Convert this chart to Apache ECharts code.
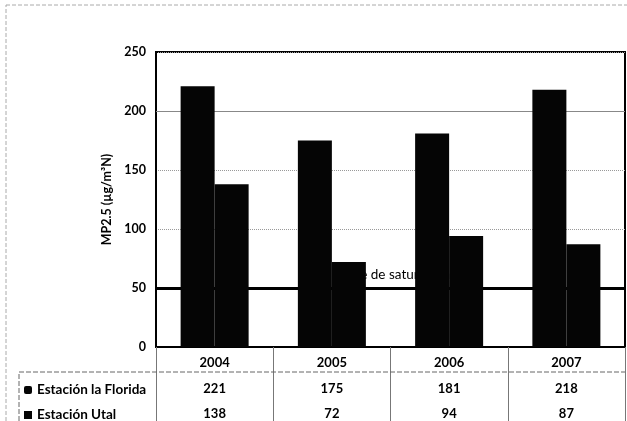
<!DOCTYPE html>
<html>
<head>
<meta charset="utf-8">
<script src="https://cdn.jsdelivr.net/npm/echarts@6/dist/echarts.min.js"></script>
<style>
html,body{margin:0;padding:0;background:#fff;}
#c{width:627px;height:421px;}
</style>
</head>
<body>
<div id="c"></div>
<script>
const categories = ['2004', '2005', '2006', '2007'];
const seriesNames = ['Estación la Florida', 'Estación Utal'];
const florida = [221, 175, 181, 218];
const utal = [138, 72, 94, 87];
const yTicks = { min: 0, max: 250, interval: 50 };
const limitValue = 50;
const gridValue = 200;
const limitLabel = 'Límite de saturación';
const yName = 'MP2.5 (µg/m³N)';

const FONT = 'Lato, "Open Sans", sans-serif';
const chart = echarts.init(document.getElementById('c'), null, { renderer: 'canvas' });

const option = {
  backgroundColor: '#fff',
  animation: false,
  textStyle: { fontFamily: FONT },
  grid: { left: 156, right: 2, top: 52, bottom: 74, show: true, borderColor: '#000', borderWidth: 2, backgroundColor: 'transparent' },
  legend: {
    data: seriesNames.map(n => ({ name: n, icon: n === seriesNames[0] ? 'roundRect' : 'rect' })),
    orient: 'vertical',
    left: 24, top: 383, height: 80, padding: 0,
    itemWidth: 8, itemHeight: 8, itemGap: 11,
    textStyle: { fontFamily: FONT, fontWeight: 'bold', fontSize: 13.5, color: '#000' },
    selectedMode: false
  },
  xAxis: [
    {
      type: 'category', data: categories, position: 'bottom',
      axisLine: { show: true, lineStyle: { color: '#000', width: 2 } },
      axisTick: { show: true, length: 74, interval: 0, lineStyle: { color: '#777', width: 1 } },
      axisLabel: { margin: 9, fontFamily: FONT, fontWeight: 'bold', fontSize: 13, color: '#000' }
    },
    {
      type: 'category', data: categories, position: 'bottom', offset: 25, gridIndex: 0,
      axisLine: { show: false }, axisTick: { show: false },
      axisLabel: { margin: 10, fontFamily: FONT, fontWeight: 'bold', fontSize: 13, color: '#000',
        formatter: (v, i) => String(florida[i]) }
    },
    {
      type: 'category', data: categories, position: 'bottom', offset: 50, gridIndex: 0,
      axisLine: { show: false }, axisTick: { show: false },
      axisLabel: { margin: 10, fontFamily: FONT, fontWeight: 'bold', fontSize: 13, color: '#000',
        formatter: (v, i) => String(utal[i]) }
    }
  ],
  yAxis: {
    type: 'value', min: yTicks.min, max: yTicks.max, interval: yTicks.interval,
    name: yName, nameLocation: 'middle', nameRotate: 90, nameGap: 33,
    nameTextStyle: { fontFamily: FONT, fontWeight: 'bold', fontSize: 12.5, color: '#000' },
    axisLine: { show: true, lineStyle: { color: '#000', width: 2 } },
    axisTick: { show: false },
    axisLabel: { margin: 10, fontFamily: FONT, fontWeight: 'bold', fontSize: 12.5, color: '#000' },
    splitLine: { show: true, lineStyle: { color: '#999', type: 'dotted', width: 1 } }
  },
  series: [
    {
      name: 'ref', type: 'line', data: [], z: 1, silent: true,
      markLine: {
        silent: true, symbol: 'none', z: 1,
        data: [
          { yAxis: limitValue, lineStyle: { color: '#000', width: 3, type: 'solid' },
            label: { show: true, position: 'insideMiddleTop', formatter: limitLabel, distance: 6,
              fontFamily: FONT, fontSize: 13.5, color: '#000' } },
          { yAxis: gridValue, lineStyle: { color: '#888', width: 1, type: 'solid' }, label: { show: false } }
        ]
      }
    },
    {
      name: seriesNames[0], type: 'bar', data: florida, z: 5,
      barGap: '0%', barCategoryGap: '42%',
      itemStyle: { color: '#050505' }
    },
    {
      name: seriesNames[1], type: 'bar', data: utal, z: 5,
      barGap: '0%', barCategoryGap: '42%',
      itemStyle: { color: '#050505' }
    }
  ],
  graphic: [
    { type: 'rect', shape: { x: 6, y: 5, width: 625, height: 420 }, style: { fill: 'none', stroke: '#aaa', lineWidth: 1, lineDash: [4, 2] }, z: 0 },
    { type: 'polyline', shape: { points: [[19, 421], [19, 372], [625, 372]] }, style: { stroke: '#666', lineWidth: 1, lineDash: [5, 2], fill: 'none' }, z: 10 }
  ]
};
chart.setOption(option);
</script>
</body>
</html>
